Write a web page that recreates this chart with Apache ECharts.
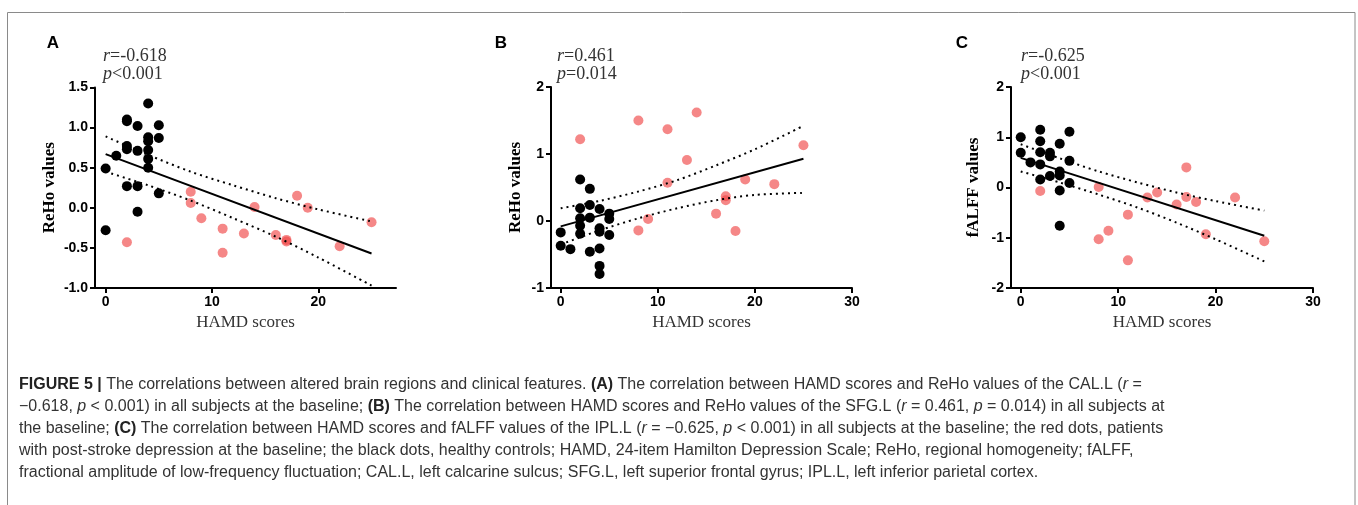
<!DOCTYPE html>
<html>
<head>
<meta charset="utf-8">
<script src="https://cdn.jsdelivr.net/npm/echarts@6/dist/echarts.min.js"></script>
<style>
html,body{margin:0;padding:0;background:#fff;}
#chart{width:1358px;height:505px;}
</style>
</head>
<body>
<div id="chart"></div>
<script>
// ---------- DATA ----------
// Panel A: HAMD scores vs ReHo values (CAL.L)
const aControls = [[0,-0.28],[0,0.49],[1,0.65],[2,1.10],[2,1.08],[2,0.77],[2,0.73],[2,0.27],[3,1.02],[3,0.71],[3,0.27],[3,-0.05],[4,1.30],[4,0.88],[4,0.83],[4,0.72],[4,0.61],[4,0.50],[5,1.03],[5,0.87],[5,0.18]];
const aPatients = [[2,-0.43],[8,0.20],[8,0.06],[9,-0.13],[11,-0.26],[11,-0.56],[13,-0.32],[14,0.01],[16,-0.34],[17,-0.40],[17,-0.42],[18,0.15],[19,0.00],[22,-0.48],[25,-0.18]];
const aFit   = [[0,0.67],[25,-0.57]];
const aUpper = [[0,0.89],[4,0.66],[8,0.45],[12,0.28],[16,0.12],[20,-0.02],[25,-0.17]];
const aLower = [[0,0.45],[4,0.28],[8,0.09],[12,-0.13],[16,-0.36],[20,-0.62],[25,-0.97]];

// Panel B: HAMD scores vs ReHo values (SFG.L)
const bControls = [[0,-0.17],[0,-0.37],[1,-0.42],[2,0.62],[2,0.19],[2,0.04],[2,-0.07],[2,-0.19],[3,0.48],[3,0.24],[3,0.05],[3,-0.46],[4,0.18],[4,-0.11],[4,-0.16],[4,-0.41],[4,-0.67],[4,-0.79],[5,0.11],[5,0.03],[5,-0.21]];
const bPatients = [[2,1.22],[8,1.50],[8,-0.14],[9,0.03],[11,1.37],[11,0.57],[13,0.91],[14,1.62],[16,0.11],[17,0.37],[17,0.31],[18,-0.15],[19,0.62],[22,0.55],[25,1.13]];
const bFit   = [[0,-0.08],[25,0.93]];
const bUpper = [[0,0.19],[4,0.30],[8,0.44],[12,0.61],[16,0.83],[20,1.07],[25,1.42]];
const bLower = [[0,-0.35],[4,-0.14],[8,0.04],[12,0.19],[16,0.31],[20,0.39],[25,0.42]];

// Panel C: HAMD scores vs fALFF values (IPL.L)
const cControls = [[0,1.00],[0,0.69],[1,0.50],[2,1.15],[2,0.92],[2,0.70],[2,0.46],[2,0.16],[3,0.69],[3,0.62],[3,0.23],[4,0.87],[4,0.32],[4,0.24],[4,-0.06],[4,-0.76],[5,1.11],[5,0.53],[5,0.09]];
const cPatients = [[2,-0.07],[8,0.01],[8,-1.03],[9,-0.86],[11,-0.54],[11,-1.45],[13,-0.20],[14,-0.10],[16,-0.34],[17,0.40],[17,-0.19],[18,-0.29],[19,-0.93],[22,-0.20],[25,-1.07]];
const cFit   = [[0,0.59],[25,-0.96]];
const cUpper = [[0,0.86],[4,0.58],[8,0.32],[12,0.10],[16,-0.10],[20,-0.27],[25,-0.46]];
const cLower = [[0,0.32],[4,0.10],[8,-0.14],[12,-0.40],[16,-0.70],[20,-1.03],[25,-1.47]];

// Axis settings / tick labels
const xTicksA = [0,10,20];
const xTicksBC = [0,10,20,30];
const panelLetters = ['A','B','C'];
const yTitles = ['ReHo values','ReHo values','fALFF values'];
const xTitle = 'HAMD scores';
const statR = ['-0.618','0.461','-0.625'];
const statP = ['<0.001','=0.014','<0.001'];

const captionLines = [
  '{b|FIGURE 5 |} The correlations between altered brain regions and clinical features. {b|(A)} The correlation between HAMD scores and ReHo values of the CAL.L ({i|r} =',
  '\u22120.618, {i|p} < 0.001) in all subjects at the baseline; {b|(B)} The correlation between HAMD scores and ReHo values of the SFG.L ({i|r} = 0.461, {i|p} = 0.014) in all subjects at',
  'the baseline; {b|(C)} The correlation between HAMD scores and fALFF values of the IPL.L ({i|r} = \u22120.625, {i|p} < 0.001) in all subjects at the baseline; the red dots, patients',
  'with post-stroke depression at the baseline; the black dots, healthy controls; HAMD, 24-item Hamilton Depression Scale; ReHo, regional homogeneity; fALFF,',
  'fractional amplitude of low-frequency fluctuation; CAL.L, left calcarine sulcus; SFG.L, left superior frontal gyrus; IPL.L, left inferior parietal cortex.'
];

// ---------- CHART ----------
const chart = echarts.init(document.getElementById('chart'), null, {renderer:'canvas'});

const SANS = 'Liberation Sans, Arial, sans-serif';
const SERIF = 'Liberation Serif, Times New Roman, serif';
const RED = 'rgba(240,70,70,0.65)';
const CAP = 16;

const grids = [
  {left:95, top:87.5, width:301, height:200.5},
  {left:551, top:87, width:301, height:201},
  {left:1011, top:87, width:302, height:201}
];
const yCfg = [
  {min:-1, max:1.5, interval:0.5, fmt:v=>v.toFixed(1), gap:37},
  {min:-1, max:2, interval:1, fmt:v=>String(v), gap:27},
  {min:-2, max:2, interval:1, fmt:v=>String(v), gap:29}
];
const xMax = [27.3, 30, 30];
const xTicks = [xTicksA, xTicksBC, xTicksBC];

const axisLine = {show:true, onZero:false, lineStyle:{color:'#000', width:2}};
const tickStyle = {color:'#000', width:2};

const xAxes = [], yAxes = [], series = [];
const panels = [
  [aControls,aPatients,aFit,aUpper,aLower],
  [bControls,bPatients,bFit,bUpper,bLower],
  [cControls,cPatients,cFit,cUpper,cLower]
];
for (let i=0;i<3;i++){
  xAxes.push({
    type:'value', gridIndex:i, min:-1, max:xMax[i],
    name:xTitle, nameLocation:'middle', nameGap:26,
    nameTextStyle:{fontFamily:SERIF, fontSize:17, color:'#333'},
    axisLine:axisLine, splitLine:{show:false},
    axisTick:{show:true, length:5, lineStyle:tickStyle, customValues:xTicks[i]},
    axisLabel:{show:true, customValues:xTicks[i], fontFamily:SANS, fontWeight:'bold', fontSize:14, color:'#000', margin:7}
  });
  yAxes.push({
    type:'value', gridIndex:i, min:yCfg[i].min, max:yCfg[i].max, interval:yCfg[i].interval,
    name:yTitles[i], nameLocation:'middle', nameGap:yCfg[i].gap,
    nameTextStyle:{fontFamily:SERIF, fontSize:17, fontWeight:'bold', color:'#000'},
    axisLine:axisLine, splitLine:{show:false},
    axisTick:{show:true, length:5, lineStyle:tickStyle},
    axisLabel:{formatter:yCfg[i].fmt, fontFamily:SANS, fontWeight:'bold', fontSize:14, color:'#000', margin:7}
  });
  const [ctl,pat,fit,up,lo] = panels[i];
  series.push({type:'scatter', xAxisIndex:i, yAxisIndex:i, data:ctl, symbolSize:10, itemStyle:{color:'#000', opacity:1}, z:3, silent:true});
  series.push({type:'scatter', xAxisIndex:i, yAxisIndex:i, data:pat, symbolSize:10, itemStyle:{color:RED, opacity:1}, z:3, silent:true});
  series.push({type:'line', xAxisIndex:i, yAxisIndex:i, data:fit, showSymbol:false, symbol:'none', lineStyle:{color:'#000', width:2}, z:4, silent:true});
  series.push({type:'line', xAxisIndex:i, yAxisIndex:i, data:up, smooth:0.3, showSymbol:false, symbol:'none', lineStyle:{color:'#000', width:2, type:[2,4]}, z:4, silent:true});
  series.push({type:'line', xAxisIndex:i, yAxisIndex:i, data:lo, smooth:0.3, showSymbol:false, symbol:'none', lineStyle:{color:'#000', width:2, type:[2,4]}, z:4, silent:true});
}

const graphics = [];
// border frame
graphics.push({type:'rect', shape:{x:7.5, y:12.5, width:1347.5, height:520}, style:{fill:'none', stroke:'#8a8a8a', lineWidth:1}, silent:true});
const letterX = [53, 501, 962];
const statX = [103, 557, 1021];
for (let i=0;i<3;i++){
  graphics.push({type:'text', x:letterX[i], y:43, style:{text:panelLetters[i], font:'bold 17px '+SANS, fill:'#000', textAlign:'center', textVerticalAlign:'middle'}, silent:true});
  graphics.push({type:'text', x:statX[i], y:56, style:{text:'{i|r}='+statR[i], fontFamily:SERIF, fontSize:18, fill:'#333', textVerticalAlign:'middle', rich:{i:{fontStyle:'italic', fontFamily:SERIF, fontSize:18, fill:'#333'}}}, silent:true});
  graphics.push({type:'text', x:statX[i], y:74, style:{text:'{i|p}'+statP[i], fontFamily:SERIF, fontSize:18, fill:'#333', textVerticalAlign:'middle', rich:{i:{fontStyle:'italic', fontFamily:SERIF, fontSize:18, fill:'#333'}}}, silent:true});
}
const capY = [385, 407, 429, 451, 473];
for (let k=0;k<captionLines.length;k++){
  graphics.push({type:'text', x:19, y:capY[k], style:{
    text:captionLines[k], fontFamily:SANS, fontSize:CAP, fill:'#333', textVerticalAlign:'middle',
    rich:{
      b:{fontWeight:'bold', fontFamily:SANS, fontSize:CAP, fill:'#222'},
      i:{fontStyle:'italic', fontFamily:SANS, fontSize:CAP, fill:'#333'}
    }}, silent:true});
}

chart.setOption({
  animation:false,
  backgroundColor:'#fff',
  grid:grids,
  xAxis:xAxes,
  yAxis:yAxes,
  series:series,
  graphic:graphics
});
</script>
</body>
</html>
